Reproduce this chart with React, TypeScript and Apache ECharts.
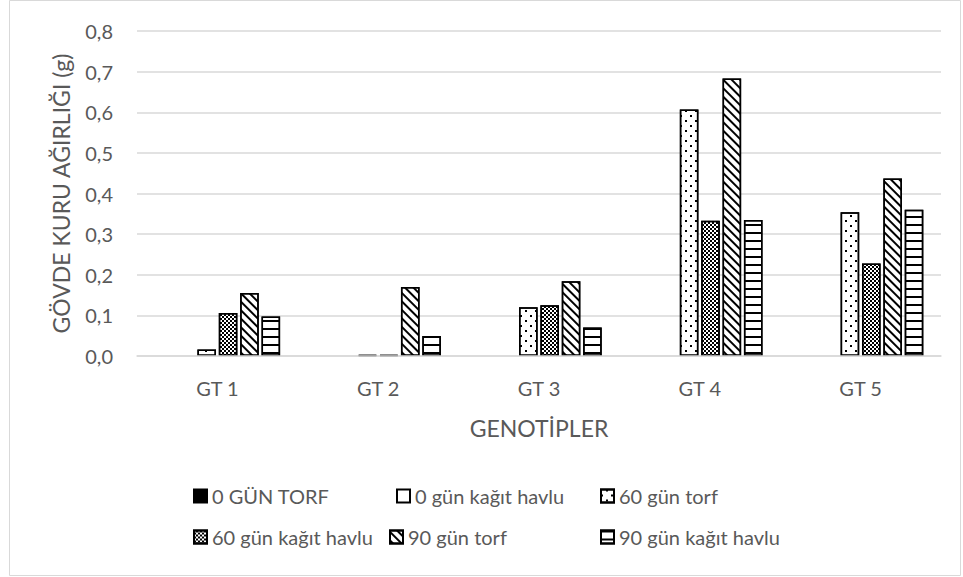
import React, { useEffect, useRef } from "react";
import * as echarts from "echarts";

// Genotypes on the category axis
const categories = ["GT 1", "GT 2", "GT 3", "GT 4", "GT 5"];

// Shoot dry weight (g) per treatment
const torf0 = [0, 0, 0, 0, 0];
const kagit0 = [0, 0, 0, 0, 0];
const torf60 = [0.016, 0.002, 0.12, 0.607, 0.354];
const kagit60 = [0.106, 0.002, 0.125, 0.333, 0.228];
const torf90 = [0.155, 0.17, 0.184, 0.683, 0.437];
const kagit90 = [0.097, 0.049, 0.07, 0.335, 0.36];

const seriesNames = [
  "0 GÜN TORF",
  "0 gün kağıt havlu",
  "60 gün torf",
  "60 gün kağıt havlu",
  "90 gün torf",
  "90 gün kağıt havlu",
];

const yTicks = { min: 0, max: 0.8, interval: 0.1 };

const FONT = "Lato";
const TEXT = "#595959";
const GRID = "#d9d9d9";

const decals: any[] = [
  null,
  null,
  {
    symbol: "rect",
    symbolSize: 1,
    color: "#000",
    dashArrayX: [
      [2, 8],
      [0, 5, 2, 3],
    ],
    dashArrayY: [2, 3],
  },
  {
    symbol: "rect",
    symbolSize: 1,
    color: "#000",
    dashArrayX: [
      [2, 2],
      [0, 2, 2, 0],
    ],
    dashArrayY: [2, 0],
  },
  {
    symbol: "rect",
    symbolSize: 1,
    color: "#000",
    dashArrayX: [1, 0],
    dashArrayY: [1.5, 3.5],
    rotation: Math.PI / 4,
  },
  {
    symbol: "rect",
    symbolSize: 1,
    color: "#000",
    dashArrayX: [1, 0],
    dashArrayY: [2, 6],
  },
];

const fills = ["#000", "#fff", "#fff", "#fff", "#fff", "#fff"];
const seriesData = [torf0, kagit0, torf60, kagit60, torf90, kagit90];

// legend placement (two rows of three)
const legendPos = [
  { left: 193, top: 486 },
  { left: 396, top: 486 },
  { left: 600, top: 486 },
  { left: 193, top: 527 },
  { left: 389, top: 527 },
  { left: 600, top: 527 },
];

export default function App() {
  const ref = useRef<HTMLDivElement>(null);

  useEffect(() => {
    if (!ref.current) return;
    const chart = echarts.init(ref.current, null, { renderer: "svg" });

    const series = seriesNames.map((name, i) => ({
      name,
      type: "bar",
      barGap: "15%",
      barCategoryGap: "22%",
      // Zero values are not drawn as bars
      data: seriesData[i].map((v) => (v === 0 ? null : v)),
      itemStyle: {
        color: fills[i],
        borderColor: "#000",
        borderWidth: 1.5,
        decal: decals[i] || undefined,
      },
    }));

    const legends = seriesNames.map((name, i) => ({
      data: [name],
      left: legendPos[i].left,
      top: legendPos[i].top,
      padding: 0,
      icon: "rect",
      itemWidth: 13,
      itemHeight: 13,
      selectedMode: false,
      textStyle: { color: TEXT, fontSize: 20, fontFamily: FONT },
    }));

    chart.setOption({
      animation: false,
      backgroundColor: "#fff",
      textStyle: { fontFamily: FONT },
      graphic: [
        {
          type: "rect",
          shape: { x: 9.5, y: 0.5, width: 951, height: 575 },
          style: { fill: "none", stroke: GRID, lineWidth: 1 },
          silent: true,
        },
      ],
      legend: legends,
      grid: { left: 137, right: 22, top: 31, bottom: 221 },
      xAxis: {
        type: "category",
        data: categories,
        name: "GENOTİPLER",
        nameLocation: "middle",
        nameGap: 60,
        nameTextStyle: { color: TEXT, fontSize: 23, fontFamily: FONT },
        axisLine: { lineStyle: { color: GRID, width: 1.5 } },
        axisTick: { show: false },
        axisLabel: { color: TEXT, fontSize: 20, fontFamily: FONT, margin: 22 },
        z: 5,
      },
      yAxis: {
        type: "value",
        min: yTicks.min,
        max: yTicks.max,
        interval: yTicks.interval,
        name: "GÖVDE KURU AĞIRLIĞI (g)",
        nameLocation: "middle",
        nameGap: 65,
        nameTextStyle: { color: TEXT, fontSize: 23, fontFamily: FONT },
        axisLine: { show: false },
        axisTick: { show: false },
        axisLabel: {
          color: TEXT,
          fontSize: 20,
          fontFamily: FONT,
          margin: 24,
          formatter: (v: number) => v.toFixed(1).replace(".", ","),
        },
        splitLine: { lineStyle: { color: GRID, width: 1.5 } },
      },
      series,
    });

    return () => chart.dispose();
  }, []);

  return (
    <div
      ref={ref}
      style={{ position: "fixed", left: 0, top: 0, width: 963, height: 577 }}
    />
  );
}
